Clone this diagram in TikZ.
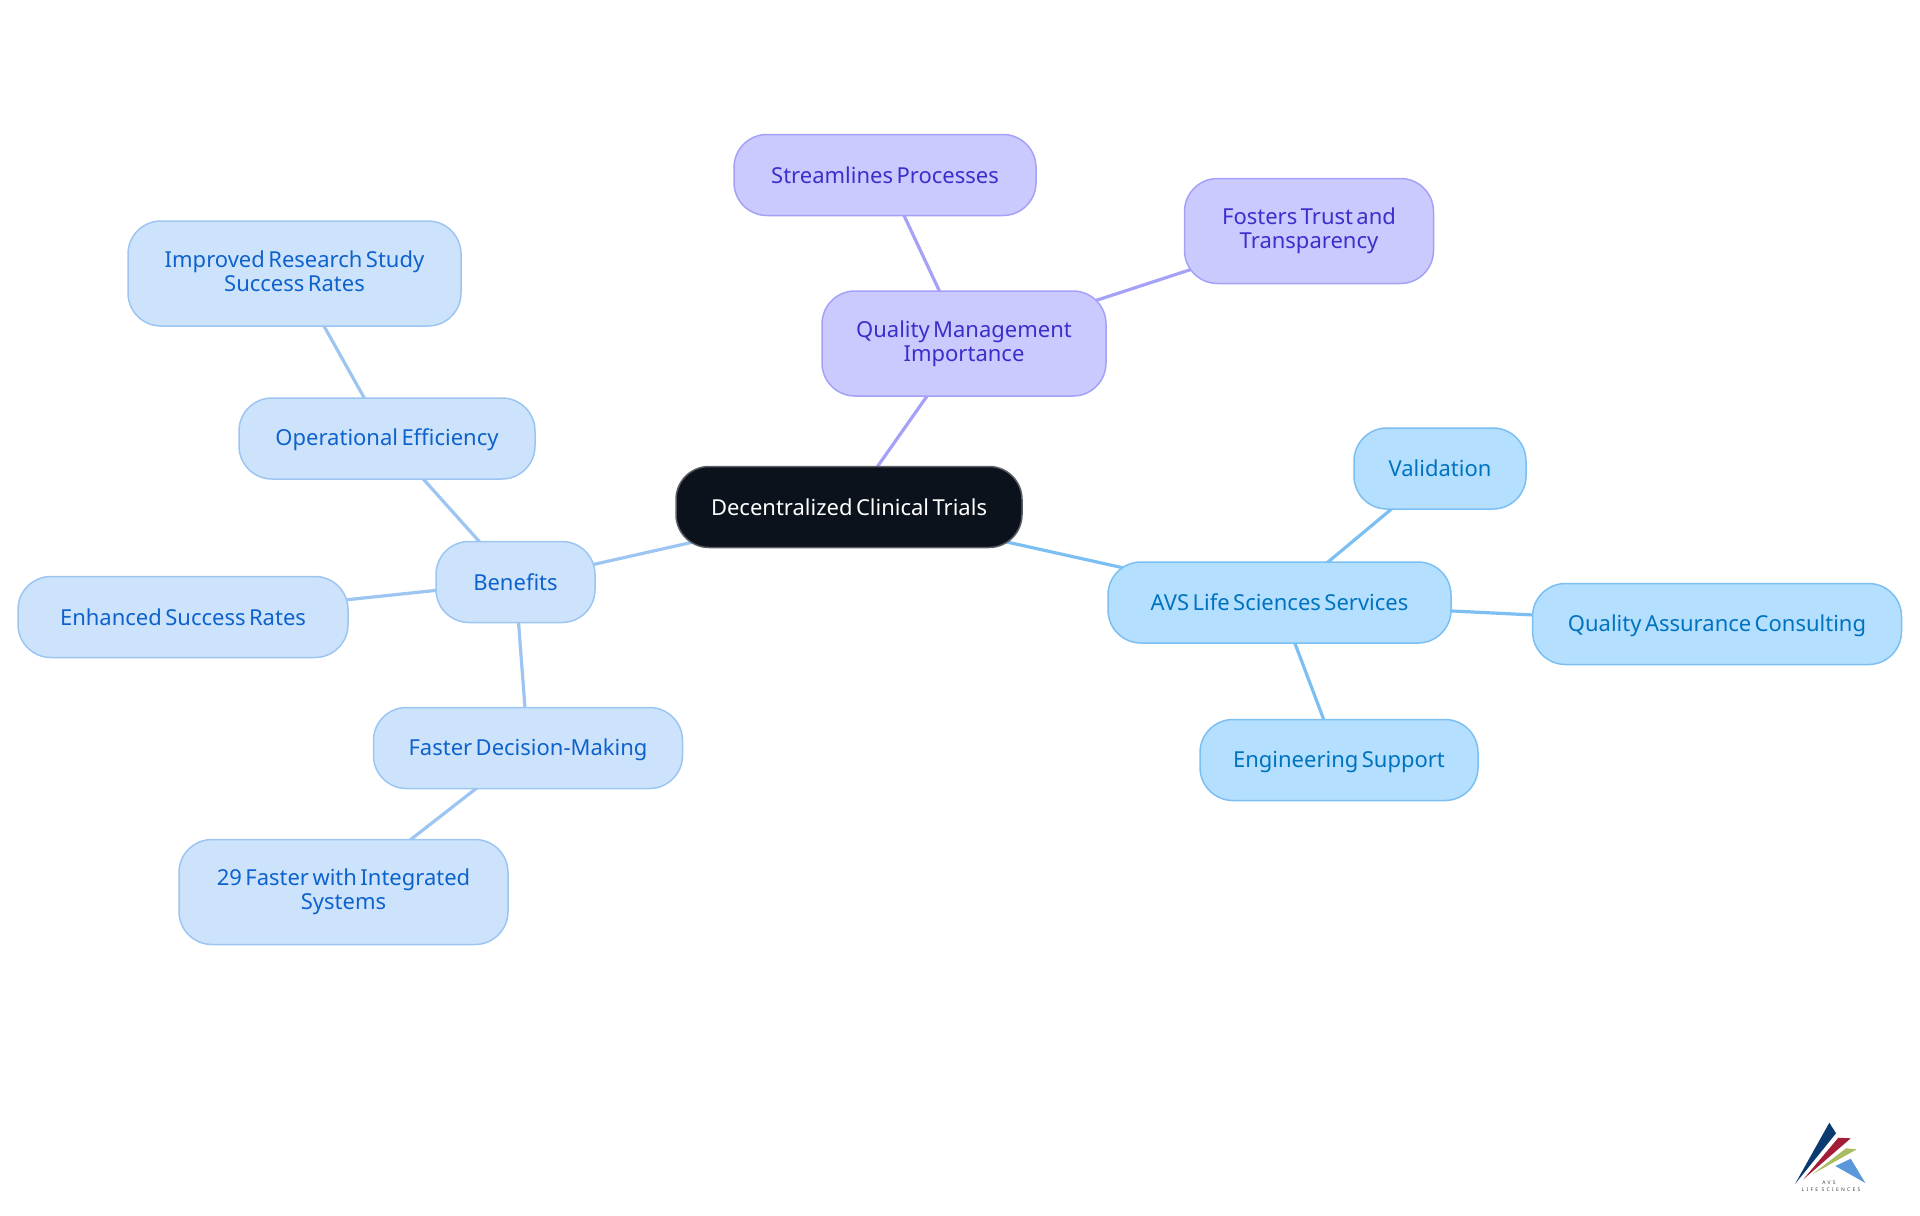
\documentclass[tikz,border=0pt]{standalone}
\usepackage{fontspec}
\setmainfont[WordSpace=0.6]{Noto Sans}
\newfontfamily\logofont[LetterSpace=45]{Noto Sans}
\usetikzlibrary{backgrounds}
\newcommand{\mapstrut}{\rule[-1.9pt]{0pt}{12pt}}
\definecolor{rootfill}{HTML}{0B121B}
\definecolor{rootdraw}{HTML}{5A5E64}
\definecolor{bluefill}{HTML}{CDE3FC}
\definecolor{bluedraw}{HTML}{9CC5F2}
\definecolor{bluetext}{HTML}{0E62CC}
\definecolor{purpfill}{HTML}{CBCAFF}
\definecolor{purpdraw}{HTML}{A5A1F7}
\definecolor{purptext}{HTML}{3A2FCB}
\definecolor{skyfill}{HTML}{B5DFFF}
\definecolor{skydraw}{HTML}{7CBFF2}
\definecolor{skytext}{HTML}{0073BE}
\definecolor{logonavy}{HTML}{0B3A70}
\definecolor{logored}{HTML}{A31D38}
\definecolor{logogreen}{HTML}{A9BC62}
\definecolor{logoblue}{HTML}{5B98DB}
\tikzset{
	mapnode/.style = {
		rectangle,
		rounded corners=16.5pt,
		align=center,
		inner sep=0pt,
		text centered,
		font=\fontsize{11}{12}\selectfont,
		execute at begin node={\lineskiplimit=-20pt\mapstrut},
		line width=0.75pt,
		minimum height=40.5pt
	},
	node_root/.style = {
		mapnode,
		white,
		draw=rootdraw,
		fill=rootfill
	},
	node_blue/.style = {
		mapnode,
		text=bluetext,
		draw=bluedraw,
		fill=bluefill
	},
	node_purp/.style = {
		mapnode,
		text=purptext,
		draw=purpdraw,
		fill=purpfill
	},
	node_sky/.style = {
		mapnode,
		text=skytext,
		draw=skydraw,
		fill=skyfill
	},
	tall/.style = {
		minimum height=52.5pt
	},
	link_blue/.style = {
		draw=bluedraw,
		line width=1.6pt
	},
	link_purp/.style = {
		draw=purpdraw,
		line width=1.6pt
	},
	link_sky/.style = {
		draw=skydraw,
		line width=1.6pt
	},
	logotext/.style = {
		inner sep=0pt,
		text=black!75,
		font=\logofont\fontsize{2.5}{3}\selectfont
	},
}

\begin{document}
\begin{tikzpicture}[x=0.5pt,y=-0.5pt]
\useasboundingbox (0,0) rectangle (1920,1215);
% middle
\node [node_root, minimum width=173pt] (root) at (849,507) {Decentralized Clinical Trials};
% left branch
\node [node_blue, minimum width=79.5pt] (benefits) at (515.5,582) {Benefits};
\node [node_blue, minimum width=148pt] (efficiency) at (387,438.5) {Operational Efficiency};
\node [node_blue, tall, minimum width=166.5pt] (improved) at (294.5,273.5) {Improved Research Study\\\mapstrut Success Rates};
\node [node_blue, minimum width=165pt] (enhanced) at (183,617) {Enhanced Success Rates};
\node [node_blue, minimum width=154.5pt] (faster) at (528,748) {Faster Decision-Making};
\node [node_blue, tall, minimum width=164.5pt] (integrated) at (343.5,892) {29 Faster with Integrated\\\mapstrut Systems};
% top branch
\node [node_purp, tall, minimum width=142pt] (quality) at (964,343.5) {Quality Management\\\mapstrut Importance};
\node [node_purp, minimum width=151pt] (streamlines) at (885,175) {Streamlines Processes};
\node [node_purp, tall, minimum width=124.5pt] (fosters) at (1309,231) {Fosters Trust and\\\mapstrut Transparency};
% right branch
\node [node_sky, minimum width=171.5pt] (services) at (1279.5,602.5) {AVS Life Sciences Services};
\node [node_sky, minimum width=86pt] (validation) at (1440,468.5) {Validation};
\node [node_sky, minimum width=184.5pt] (assurance) at (1717,624) {Quality Assurance Consulting};
\node [node_sky, minimum width=139pt] (engineering) at (1339,760) {Engineering Support};
% links
\begin{pgfonlayer}{background}
\draw [link_blue] (root.center) -- (benefits.center);
\draw [link_blue] (benefits.center) -- (efficiency.center);
\draw [link_blue] (efficiency.center) -- (improved.center);
\draw [link_blue] (benefits.center) -- (enhanced.center);
\draw [link_blue] (benefits.center) -- (faster.center);
\draw [link_blue] (faster.center) -- (integrated.center);
\draw [link_purp] (root.center) -- (quality.center);
\draw [link_purp] (quality.center) -- (streamlines.center);
\draw [link_purp] (quality.center) -- (fosters.center);
\draw [link_sky] (root.center) -- (services.center);
\draw [link_sky] (services.center) -- (validation.center);
\draw [link_sky] (services.center) -- (assurance.center);
\draw [link_sky] (services.center) -- (engineering.center);
\end{pgfonlayer}
% logo
\fill [logonavy] (1829.3,1122.7) -- (1836,1133.3) -- (1795,1184) -- cycle;
\fill [logored] (1838.3,1137.7) -- (1850.7,1138.3) -- (1803.3,1179.3) -- cycle;
\fill [logogreen] (1846,1148.3) -- (1856.7,1149.3) -- (1812.7,1174) -- cycle;
\fill [logoblue] (1850.7,1158.7) -- (1835.3,1166) -- (1865.3,1183) -- cycle;
\node [logotext] (logoavs) at (1829,1182.5) {AVS};
\node [logotext] (logolife) at (1831,1189.3) {LIFE SCIENCES};
\end{tikzpicture}
\end{document}
